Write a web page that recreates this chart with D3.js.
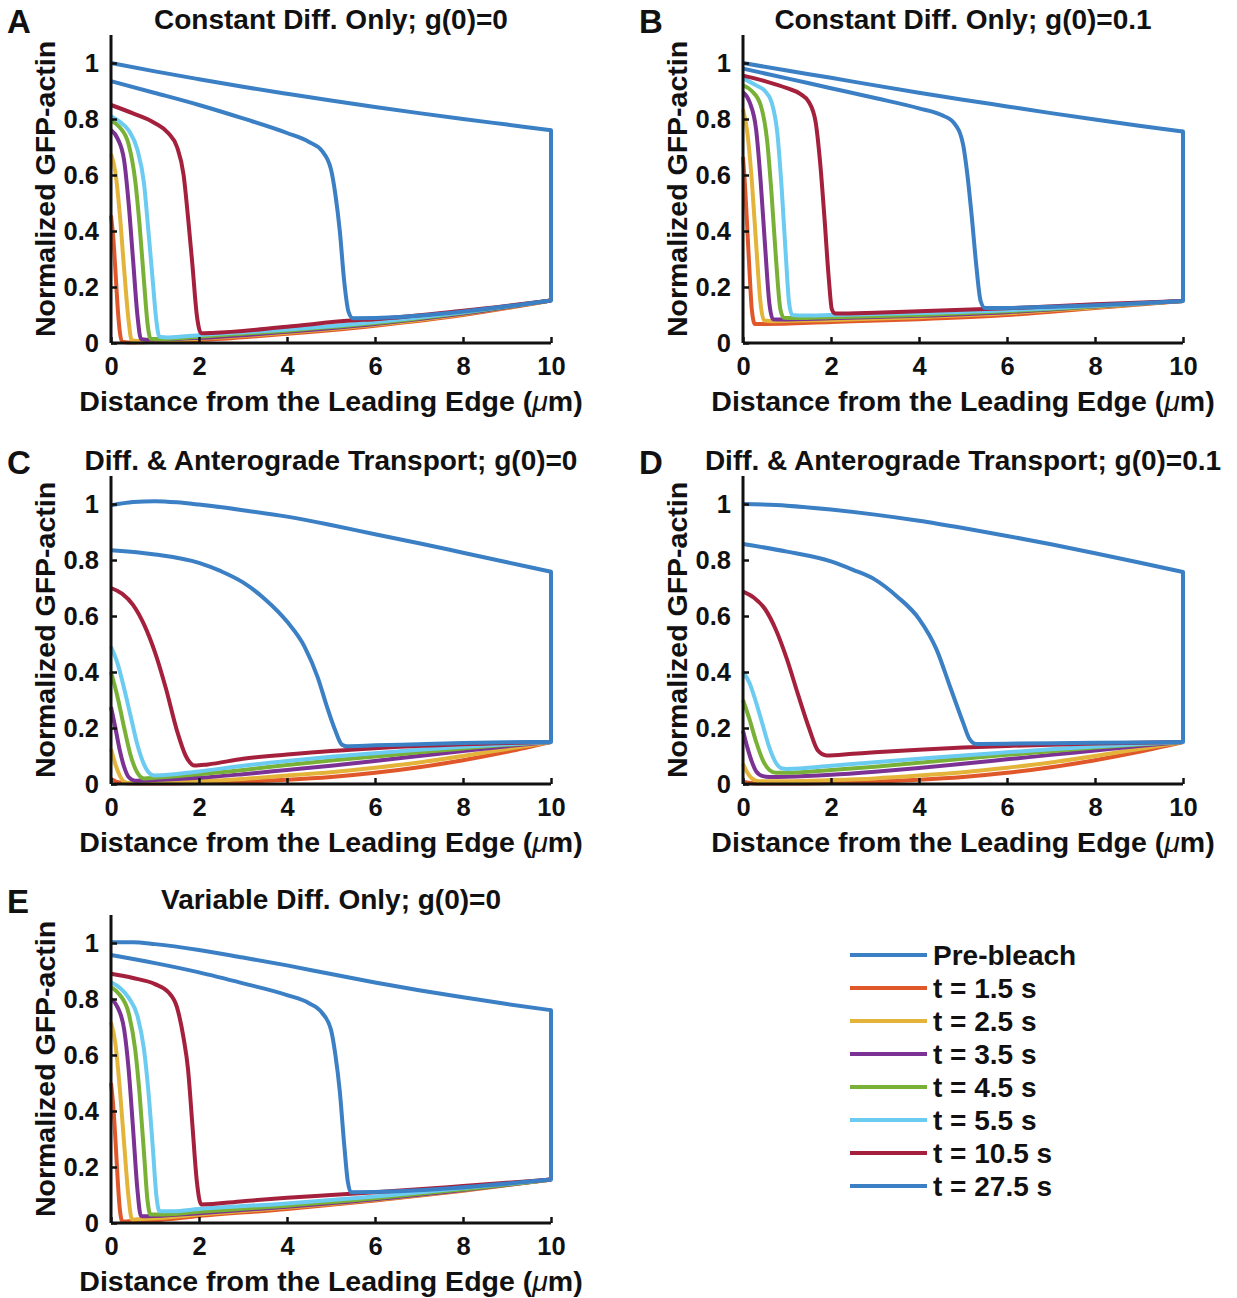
<!DOCTYPE html>
<html>
<head>
<meta charset="utf-8">
<script src="https://cdn.jsdelivr.net/npm/d3@7"></script>
<style>
  body { margin: 0; background: #fff; }
  text { font-family: "Liberation Sans", Arial, sans-serif; font-weight: bold; fill: #111; }
</style>
</head>
<body>
<svg id="fig" width="1237" height="1298"></svg>
<script>
// series order: Pre-bleach, 1.5, 2.5, 3.5, 4.5, 5.5, 10.5, 27.5 s
const seriesLabels = ["Pre-bleach", "t = 1.5 s", "t = 2.5 s", "t = 3.5 s", "t = 4.5 s", "t = 5.5 s", "t = 10.5 s", "t = 27.5 s"];
const seriesColors = ["#3b7fc4", "#e0582a", "#e4b43a", "#7b3294", "#78b136", "#6ccbf0", "#a5203c", "#3b7fc4"];
const xTicks = [0, 2, 4, 6, 8, 10];
const yTicks = [0, 0.2, 0.4, 0.6, 0.8, 1];
const panelLetters = ["A", "B", "C", "D", "E"];
const panelTitles = [
  "Constant Diff. Only; g(0)=0",
  "Constant Diff. Only; g(0)=0.1",
  "Diff. & Anterograde Transport; g(0)=0",
  "Diff. & Anterograde Transport; g(0)=0.1",
  "Variable Diff. Only; g(0)=0"
];
// pre-bleach curve drops to this value at x = 10
const preDrop = [0.152, 0.15, 0.15, 0.15, 0.155];

const curvesA = [
  [[0,1.0],[1,0.97],[2,0.942],[3,0.915],[4,0.89],[5,0.866],[6,0.843],[7,0.821],[8,0.8],[9,0.78],[10,0.76]],
  [[0,0.455],[0.05,0.38],[0.1,0.26],[0.15,0.13],[0.2,0.04],[0.25,0.005],[0.4,0.002],[1,0.004],[2,0.01],[4,0.033],[6,0.062],[8,0.1],[10,0.152]],
  [[0,0.675],[0.1,0.61],[0.2,0.46],[0.3,0.26],[0.4,0.08],[0.47,0.01],[0.6,0.007],[1,0.008],[2,0.015],[4,0.037],[6,0.065],[8,0.103],[10,0.152]],
  [[0,0.76],[0.15,0.73],[0.3,0.65],[0.4,0.5],[0.5,0.3],[0.6,0.1],[0.68,0.015],[0.8,0.012],[2,0.018],[4,0.04],[6,0.068],[8,0.105],[10,0.152]],
  [[0,0.795],[0.2,0.77],[0.4,0.71],[0.55,0.58],[0.65,0.42],[0.75,0.22],[0.83,0.07],[0.9,0.015],[1.1,0.014],[2,0.022],[4,0.044],[6,0.071],[8,0.108],[10,0.152]],
  [[0,0.81],[0.2,0.79],[0.4,0.76],[0.6,0.69],[0.75,0.57],[0.85,0.4],[0.95,0.22],[1.03,0.08],[1.1,0.022],[1.3,0.02],[2,0.028],[4,0.048],[6,0.075],[8,0.11],[10,0.152]],
  [[0,0.85],[0.5,0.82],[1,0.785],[1.3,0.75],[1.5,0.7],[1.65,0.6],[1.75,0.45],[1.85,0.28],[1.95,0.1],[2.05,0.035],[2.3,0.036],[4,0.058],[5.45,0.08],[6,0.085],[8,0.115],[10,0.152]],
  [[0,0.935],[1,0.893],[2,0.85],[3,0.802],[4,0.75],[4.5,0.718],[4.8,0.685],[5,0.62],[5.1,0.53],[5.2,0.4],[5.3,0.22],[5.4,0.11],[5.5,0.088],[10,0.152]]
];

const curvesB = [
  [[0,1.0],[1,0.973],[2,0.947],[3,0.92],[4,0.894],[5,0.869],[6,0.845],[7,0.821],[8,0.798],[9,0.776],[10,0.755]],
  [[0,0.665],[0.05,0.55],[0.1,0.4],[0.15,0.25],[0.2,0.12],[0.27,0.068],[0.5,0.068],[2,0.075],[4,0.085],[6,0.1],[8,0.125],[10,0.15]],
  [[0,0.835],[0.1,0.75],[0.2,0.58],[0.3,0.35],[0.4,0.14],[0.48,0.08],[0.7,0.078],[2,0.082],[4,0.092],[6,0.106],[8,0.128],[10,0.15]],
  [[0,0.895],[0.15,0.86],[0.3,0.76],[0.4,0.58],[0.5,0.35],[0.6,0.14],[0.68,0.085],[0.9,0.084],[2,0.088],[4,0.097],[6,0.11],[8,0.13],[10,0.15]],
  [[0,0.92],[0.2,0.9],[0.4,0.85],[0.55,0.72],[0.65,0.53],[0.75,0.3],[0.85,0.12],[0.93,0.09],[1.2,0.089],[2,0.092],[4,0.1],[6,0.113],[8,0.131],[10,0.15]],
  [[0,0.945],[0.3,0.92],[0.5,0.9],[0.65,0.86],[0.78,0.75],[0.88,0.55],[0.97,0.32],[1.05,0.14],[1.12,0.1],[1.4,0.098],[2,0.1],[4,0.107],[6,0.117],[8,0.133],[10,0.15]],
  [[0,0.955],[0.5,0.935],[1,0.91],[1.3,0.89],[1.5,0.86],[1.65,0.79],[1.75,0.65],[1.85,0.45],[1.95,0.23],[2.02,0.12],[2.1,0.105],[3,0.108],[4,0.113],[6,0.124],[8,0.138],[10,0.15]],
  [[0,0.98],[1,0.945],[2,0.91],[3,0.875],[4,0.838],[4.5,0.815],[4.8,0.785],[5,0.71],[5.1,0.6],[5.2,0.45],[5.3,0.28],[5.4,0.15],[5.5,0.125],[10,0.15]]
];

const curvesC = [
  [[0,0.995],[0.5,1.007],[1,1.01],[1.5,1.006],[2,0.998],[3,0.978],[4,0.955],[5,0.925],[6,0.892],[7,0.86],[8,0.826],[9,0.792],[10,0.758]],
  [[0,0.018],[0.2,0.005],[0.5,0.002],[1,0.002],[2,0.004],[3,0.008],[4,0.015],[5,0.025],[6,0.04],[7,0.06],[8,0.085],[9,0.115],[10,0.15]],
  [[0,0.125],[0.1,0.07],[0.2,0.03],[0.3,0.008],[0.4,0.004],[1,0.005],[2,0.01],[3,0.018],[4,0.03],[5,0.042],[6,0.058],[7,0.077],[8,0.1],[9,0.125],[10,0.15]],
  [[0,0.275],[0.1,0.2],[0.2,0.12],[0.3,0.06],[0.4,0.025],[0.55,0.012],[1,0.014],[2,0.022],[3,0.035],[4,0.05],[5,0.065],[6,0.082],[7,0.1],[8,0.118],[9,0.135],[10,0.15]],
  [[0,0.4],[0.15,0.31],[0.3,0.2],[0.45,0.1],[0.6,0.04],[0.75,0.02],[1,0.022],[2,0.035],[3,0.05],[4,0.068],[5,0.084],[6,0.098],[7,0.113],[8,0.127],[9,0.14],[10,0.15]],
  [[0,0.49],[0.15,0.43],[0.3,0.34],[0.45,0.24],[0.6,0.14],[0.75,0.07],[0.9,0.035],[1,0.03],[2,0.045],[3,0.065],[4,0.082],[5,0.097],[6,0.11],[7,0.122],[8,0.133],[9,0.142],[10,0.15]],
  [[0,0.7],[0.25,0.68],[0.5,0.64],[0.75,0.57],[1,0.47],[1.25,0.34],[1.5,0.19],[1.7,0.1],[1.9,0.066],[2.2,0.07],[3,0.09],[4,0.105],[5,0.118],[6,0.128],[8,0.142],[10,0.15]],
  [[0,0.835],[1,0.82],[2,0.79],[2.5,0.76],[3,0.72],[3.5,0.66],[4,0.58],[4.4,0.49],[4.7,0.38],[4.9,0.28],[5.1,0.19],[5.25,0.14],[5.35,0.135],[6,0.138],[7,0.142],[8,0.146],[9,0.149],[10,0.15]]
];

const curvesD = [
  [[0,1.0],[1,0.994],[2,0.98],[3,0.962],[4,0.94],[5,0.914],[6,0.886],[7,0.856],[8,0.824],[9,0.791],[10,0.757]],
  [[0,0.008],[0.3,0.002],[1,0.002],[2,0.004],[3,0.008],[4,0.015],[5,0.025],[6,0.04],[7,0.06],[8,0.085],[9,0.115],[10,0.15]],
  [[0,0.072],[0.1,0.04],[0.2,0.02],[0.35,0.01],[1,0.01],[2,0.014],[3,0.02],[4,0.03],[5,0.042],[6,0.058],[7,0.077],[8,0.1],[9,0.125],[10,0.15]],
  [[0,0.19],[0.1,0.13],[0.2,0.08],[0.3,0.045],[0.45,0.028],[0.6,0.025],[1,0.026],[2,0.033],[3,0.044],[4,0.057],[5,0.072],[6,0.088],[7,0.104],[8,0.12],[9,0.136],[10,0.15]],
  [[0,0.3],[0.15,0.23],[0.3,0.15],[0.45,0.085],[0.6,0.05],[0.75,0.04],[1,0.04],[2,0.05],[3,0.062],[4,0.076],[5,0.09],[6,0.104],[7,0.117],[8,0.13],[9,0.141],[10,0.15]],
  [[0,0.4],[0.15,0.36],[0.3,0.29],[0.45,0.21],[0.6,0.13],[0.75,0.075],[0.9,0.055],[1,0.054],[2,0.065],[3,0.078],[4,0.09],[5,0.102],[6,0.113],[7,0.124],[8,0.134],[9,0.143],[10,0.15]],
  [[0,0.687],[0.25,0.665],[0.5,0.625],[0.75,0.55],[1,0.445],[1.25,0.32],[1.5,0.2],[1.7,0.12],[1.9,0.102],[2.5,0.108],[3,0.113],[4,0.122],[5,0.13],[6,0.136],[8,0.145],[10,0.15]],
  [[0,0.857],[1,0.83],[2,0.795],[2.5,0.765],[3,0.73],[3.5,0.67],[4,0.59],[4.4,0.48],[4.7,0.35],[5,0.22],[5.15,0.16],[5.3,0.143],[6,0.144],[8,0.147],[10,0.15]]
];

const curvesE = [
  [[0,1.003],[0.5,1.003],[1,0.996],[2,0.975],[3,0.948],[4,0.92],[5,0.889],[6,0.859],[7,0.831],[8,0.806],[9,0.782],[10,0.76]],
  [[0,0.5],[0.05,0.42],[0.1,0.3],[0.15,0.16],[0.2,0.05],[0.26,0.005],[0.4,0.006],[1,0.01],[2,0.025],[4,0.05],[6,0.08],[8,0.115],[10,0.155]],
  [[0,0.717],[0.1,0.64],[0.2,0.48],[0.3,0.28],[0.4,0.09],[0.48,0.012],[0.6,0.013],[1,0.017],[2,0.03],[4,0.055],[6,0.083],[8,0.117],[10,0.155]],
  [[0,0.8],[0.15,0.77],[0.3,0.69],[0.4,0.55],[0.5,0.34],[0.6,0.12],[0.68,0.025],[0.8,0.024],[2,0.035],[4,0.058],[6,0.085],[8,0.118],[10,0.155]],
  [[0,0.842],[0.2,0.815],[0.4,0.75],[0.55,0.62],[0.65,0.46],[0.75,0.25],[0.83,0.08],[0.9,0.03],[1.1,0.03],[2,0.04],[4,0.062],[6,0.088],[8,0.12],[10,0.155]],
  [[0,0.86],[0.2,0.84],[0.4,0.805],[0.6,0.74],[0.75,0.62],[0.85,0.47],[0.95,0.27],[1.03,0.1],[1.1,0.042],[1.4,0.042],[2,0.05],[4,0.07],[6,0.095],[8,0.125],[10,0.155]],
  [[0,0.89],[0.5,0.875],[1,0.853],[1.3,0.825],[1.5,0.77],[1.65,0.66],[1.75,0.55],[1.85,0.35],[1.95,0.15],[2.05,0.066],[3,0.078],[4,0.09],[5,0.1],[6,0.11],[8,0.132],[10,0.155]],
  [[0,0.957],[1,0.928],[2,0.895],[3,0.856],[4,0.814],[4.5,0.785],[4.8,0.75],[5,0.69],[5.1,0.6],[5.2,0.47],[5.3,0.28],[5.38,0.15],[5.45,0.11],[10,0.155]]
];

const allCurves = [curvesA, curvesB, curvesC, curvesD, curvesE];

// layout
const plotW = 440, plotH = 308;
const panelPos = [
  { left: 111, top: 35 },
  { left: 743, top: 35 },
  { left: 111, top: 476 },
  { left: 743, top: 476 },
  { left: 111, top: 915 }
];

const svg = d3.select("#fig");
svg.append("rect").attr("width", 1237).attr("height", 1298).attr("fill", "#fff");

allCurves.forEach((curves, i) => {
  const pos = panelPos[i];
  const g = svg.append("g").attr("transform", `translate(${pos.left}, ${pos.top})`);

  const x = d3.scaleLinear().domain([0, 10]).range([0, plotW]);
  const y = d3.scaleLinear().domain([0, 1.1]).range([plotH, 0]);

  const line = d3.line()
    .x(d => x(d[0]))
    .y(d => y(d[1]))
    .curve(d3.curveMonotoneX);

  // curves
  curves.forEach((c, k) => {
    g.append("path")
      .attr("d", line(c))
      .attr("fill", "none")
      .attr("stroke", seriesColors[k])
      .attr("stroke-width", 4)
      .attr("stroke-linejoin", "round");
    if (k == 0) {
      // vertical drop of the pre-bleach profile at the cell end
      const last = c[c.length - 1];
      g.append("path")
        .attr("d", d3.line().x(d => x(d[0])).y(d => y(d[1]))([last, [last[0], preDrop[i]]]))
        .attr("fill", "none")
        .attr("stroke", seriesColors[0])
        .attr("stroke-width", 4)
        .attr("stroke-linecap", "round");
    }
  });

  // axes (ticks point inward)
  const xAxis = g.append("g")
    .attr("transform", `translate(0, ${plotH})`)
    .call(d3.axisBottom(x).tickValues(xTicks).tickSizeInner(-6).tickSizeOuter(0).tickPadding(14).tickFormat(d3.format("d")));
  const yAxis = g.append("g")
    .call(d3.axisLeft(y).tickValues(yTicks).tickSizeInner(-6).tickSizeOuter(0).tickPadding(12).tickFormat(d => d == 0 || d == 1 ? d3.format("d")(d) : d3.format(".1f")(d)));

  [xAxis, yAxis].forEach(ax => {
    ax.select(".domain").attr("stroke", "#111").attr("stroke-width", 3);
    ax.selectAll(".tick line").attr("stroke", "#111").attr("stroke-width", 2.5);
    ax.selectAll(".tick text")
      .attr("font-size", "25.5px")
      .attr("font-family", "Liberation Sans, Arial, sans-serif")
      .attr("font-weight", "bold")
      .attr("fill", "#111");
  });
  // y axis line runs up to 1.1
  yAxis.select(".domain").attr("d", `M0,${plotH}V0`);
  xAxis.select(".domain").attr("d", `M0,0H${plotW}`);

  // x label
  const xl = g.append("text")
    .attr("x", plotW / 2)
    .attr("y", plotH + 68)
    .attr("text-anchor", "middle")
    .attr("font-size", "28.5px")
    .text("Distance from the Leading Edge (");
  xl.append("tspan").attr("font-style", "italic").attr("font-weight", "normal").text("μ");
  xl.append("tspan").text("m)");

  // y label
  g.append("text")
    .attr("transform", `translate(-56, ${plotH / 2}) rotate(-90)`)
    .attr("text-anchor", "middle")
    .attr("font-size", "28.5px")
    .text("Normalized GFP-actin");

  // title
  g.append("text")
    .attr("x", plotW / 2)
    .attr("y", -6)
    .attr("text-anchor", "middle")
    .attr("font-size", "28px")
    .text(panelTitles[i]);

  // panel letter
  g.append("text")
    .attr("x", -104)
    .attr("y", -2)
    .attr("font-size", "33px")
    .text(panelLetters[i]);
});

// legend
const legend = svg.append("g").attr("transform", "translate(850, 955)");
seriesLabels.forEach((lab, k) => {
  const row = legend.append("g").attr("transform", `translate(0, ${k * 33})`);
  row.append("line")
    .attr("x1", 0).attr("x2", 77)
    .attr("y1", 0).attr("y2", 0)
    .attr("stroke", seriesColors[k])
    .attr("stroke-width", 4);
  row.append("text")
    .attr("x", 83)
    .attr("y", 10)
    .attr("font-size", "28px")
    .text(lab);
});
</script>
</body>
</html>
